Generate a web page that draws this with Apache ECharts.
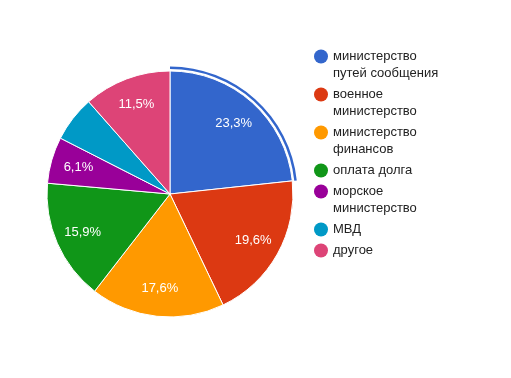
<!DOCTYPE html>
<html><head><meta charset="utf-8">
<script src="https://cdn.jsdelivr.net/npm/echarts@6/dist/echarts.min.js"></script>
<style>html,body{margin:0;padding:0;background:#fff}#c{width:511px;height:378px}</style>
</head><body><div id="c"></div>
<script>
const categories = ['министерство путей сообщения','военное министерство','министерство финансов','оплата долга','морское министерство','МВД','другое'];
const legendLines = [['министерство','путей сообщения'],['военное','министерство'],['министерство','финансов'],['оплата долга'],['морское','министерство'],['МВД'],['другое']];
const values = [23.3, 19.6, 17.6, 15.9, 6.1, 6.0, 11.5];
const showLabel = [true, true, true, true, true, false, true];
const colors = ['#3366cc','#dc3912','#ff9900','#109618','#990099','#0099c6','#dd4477'];

const font = '"Liberation Sans", Arial, sans-serif';
const center = [170, 194];
const R = 123;
const rich = { t: {fontSize: 13, fontFamily: font, color: '#222', lineHeight: 17}, sp: {width: 19, height: 13}, g: {width: 5, height: 13} };
colors.forEach((c, i) => { rich['d' + i] = {width: 14, height: 14, borderRadius: 7, backgroundColor: c}; });

const chart = echarts.init(document.getElementById('c'), null, {renderer: 'canvas'});
const rest = values.slice(1).reduce((a, b) => a + b, 0);
chart.setOption({
  animation: false,
  color: colors,
  legend: {
    orient: 'vertical', left: 309, top: 48, padding: 0, itemGap: 4,
    icon: 'none', itemWidth: 0, itemHeight: 0,
    selectedMode: false,
    data: categories,
    formatter: function (name) {
      const i = categories.indexOf(name);
      return legendLines[i].map((l, k) => (k === 0 ? '{d' + i + '|}{g|}' : '{sp|}') + '{t|' + l + '}').join('\n');
    },
    textStyle: {rich: rich, fontSize: 13, fontFamily: font, color: '#222', lineHeight: 17}
  },
  series: [
    {
      type: 'pie', center: center, radius: [0, R], startAngle: 90, clockwise: true,
      silent: true, label: {show: false}, labelLine: {show: false},
      itemStyle: {borderColor: '#fff', borderWidth: 1},
      data: categories.map((n, i) => ({name: n, value: values[i]}))
    },
    {
      type: 'pie', center: center, radius: [R / 2, R], startAngle: 90, clockwise: true,
      silent: true, legendHoverLink: false,
      itemStyle: {color: 'rgba(0,0,0,0)'},
      labelLine: {show: false},
      label: {
        show: true, position: 'inside', color: '#fff', fontSize: 13, fontFamily: font,
        formatter: p => showLabel[p.dataIndex] ? values[p.dataIndex].toFixed(1).replace('.', ',') + '%' : ''
      },
      data: categories.map((n, i) => ({name: n + ' ', value: values[i]}))
    },
    {
      type: 'pie', center: center, radius: [R + 2, R + 4.5], startAngle: 90, clockwise: true,
      silent: true, label: {show: false}, labelLine: {show: false},
      data: [
        {name: 'sel', value: values[0], itemStyle: {color: colors[0]}},
        {name: 'rest', value: rest, itemStyle: {color: 'rgba(0,0,0,0)'}}
      ]
    }
  ]
});
</script></body></html>
